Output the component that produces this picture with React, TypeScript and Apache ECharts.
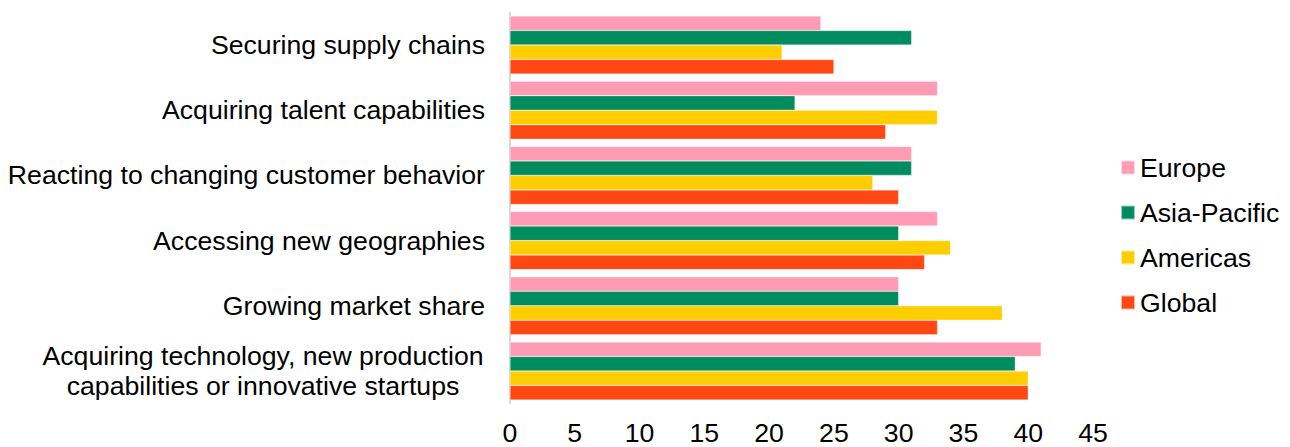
import React, { useEffect, useRef } from "react";
import * as echarts from "echarts";

const categories = [
  "Securing supply chains",
  "Acquiring talent capabilities",
  "Reacting to changing customer behavior",
  "Accessing new geographies",
  "Growing market share",
  "Acquiring technology, new production\ncapabilities or innovative startups",
];

const europe = [24, 33, 31, 33, 30, 41];
const asiaPacific = [31, 22, 31, 30, 30, 39];
const americas = [21, 33, 28, 34, 38, 40];
const global = [25, 29, 30, 32, 33, 40];

const seriesNames = ["Europe", "Asia-Pacific", "Americas", "Global"];
const seriesColors = ["#FF9BB5", "#008C5E", "#FFCE00", "#FF4714"];
const seriesValues = [europe, asiaPacific, americas, global];

const FONT = "'Liberation Sans', Arial, sans-serif";
const FONT_SIZE = 26.67;

export default function App() {
  const ref = useRef<HTMLDivElement>(null);

  useEffect(() => {
    if (!ref.current) return;
    const chart = echarts.init(ref.current, null, { renderer: "svg" });
    // multi-line labels are centred line by line, with the block pulled left
    const yData = categories.map((c) => {
      if (c.indexOf("\n") < 0) return c;
      return {
        value: c,
        textStyle: { align: "center", padding: [0, 444, 0, 0] },
      };
    });
    chart.setOption({
      animation: false,
      textStyle: { fontFamily: FONT },
      grid: {
        left: 502,
        right: 189,
        top: 4.4,
        bottom: 43.4,
        containLabel: false,
        outerBoundsMode: "none",
      },
      legend: {
        orient: "vertical",
        left: 1112,
        top: 146,
        padding: 0,
        itemWidth: 14,
        itemHeight: 14,
        itemGap: 18,
        icon: "rect",
        data: seriesNames,
        textStyle: { fontSize: FONT_SIZE, color: "#000", fontFamily: FONT },
      },
      xAxis: {
        type: "value",
        min: 0,
        max: 45,
        interval: 5,
        axisLine: { show: false },
        axisTick: { show: false },
        splitLine: { show: false },
        axisLabel: { fontSize: FONT_SIZE, color: "#000", margin: 16, fontFamily: FONT },
      },
      yAxis: {
        type: "category",
        inverse: true,
        data: yData,
        axisLine: { show: true, lineStyle: { color: "#D9D9D9", width: 2 } },
        axisTick: { show: false },
        axisLabel: {
          fontSize: FONT_SIZE,
          color: "#000",
          margin: 25,
          fontFamily: FONT,
          lineHeight: 30,
        },
      },
      series: seriesNames.map((name, i) => ({
        name,
        type: "bar",
        data: seriesValues[i],
        barCategoryGap: "11%",
        barGap: "0%",
        itemStyle: { color: seriesColors[i], borderColor: "rgba(255,255,255,0.6)", borderWidth: 0.5 },
      })),
    });
    return () => chart.dispose();
  }, []);

  return <div ref={ref} style={{ width: 1274, height: 439 }} />;
}
